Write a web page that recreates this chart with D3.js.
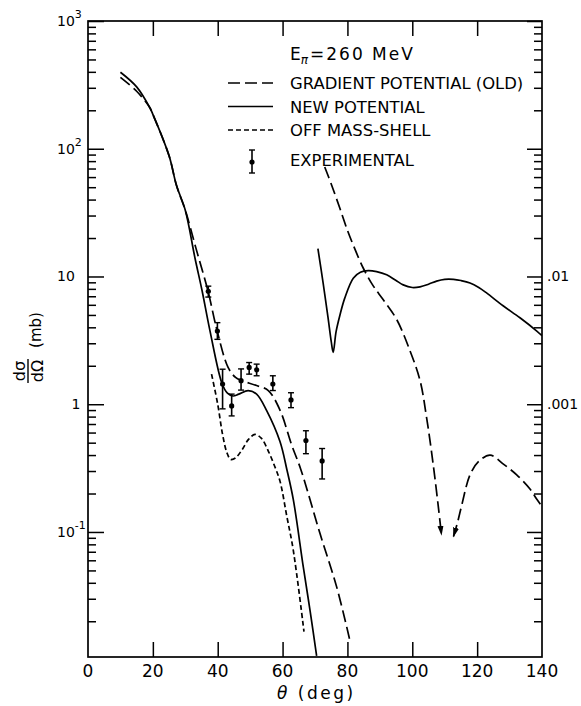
<!DOCTYPE html>
<html>
<head>
<meta charset="utf-8">
<script src="https://cdn.jsdelivr.net/npm/d3@7"></script>
<style>
  body { margin: 0; background: #fff; }
  svg { font-family: "DejaVu Sans", sans-serif; }
</style>
</head>
<body>
<svg id="chart" width="581" height="706"></svg>
<script>
// Values: [theta (deg), dsigma/dOmega (mb)]
const commonStart = [[19, 211], [20, 186], [25, 88], [27.3, 51.5], [30, 33]];

const newPotential = [[10, 397], [15, 305]].concat(commonStart, [
    [33, 13.9], [35.2, 7.7], [37.6, 3.77], [41.3, 1.46], [43, 1.22], [44.7, 1.16],
    [46.5, 1.2], [49.4, 1.28], [52, 1.2], [55.1, 0.89], [59.2, 0.51], [61.3, 0.31],
    [63.3, 0.18], [66.4, 0.053], [68.5, 0.024], [70.5, 0.0107]
]);

const oldPotential = [[10, 362], [15, 282]].concat(commonStart, [
    [33.3, 16.6], [37, 7.7], [39.8, 3.77], [43.2, 1.94], [45.5, 1.62], [47.4, 1.53],
    [52, 1.4], [55.6, 1.28], [59.2, 0.9], [62.8, 0.48], [65.6, 0.31], [71.5, 0.098],
    [76.7, 0.037], [80.8, 0.014]
]);

const offMassShell = [
    [38.1, 1.72], [40, 1.0], [41.5, 0.58], [42.8, 0.42], [44, 0.37], [45.5, 0.38],
    [47.5, 0.44], [49.5, 0.53], [51.5, 0.58], [53.5, 0.54], [55.6, 0.43], [57.5, 0.33],
    [59.2, 0.25], [61.3, 0.133], [63.3, 0.072], [66.6, 0.0166]
];

// experimental: [theta, value, low, high]
const experimental = [
    [37.1, 7.65, 6.9, 8.4], [39.9, 3.74, 3.22, 4.35], [41.5, 1.44, 0.92, 1.88],
    [44.3, 0.97, 0.81, 1.2], [47.2, 1.53, 1.29, 1.89], [49.7, 1.94, 1.72, 2.12],
    [52.0, 1.86, 1.67, 2.06], [57.0, 1.44, 1.28, 1.67], [62.6, 1.08, 0.94, 1.23],
    [67.2, 0.52, 0.41, 0.62], [72.2, 0.36, 0.26, 0.45]
];

// large-angle curves, read against the right-hand axis
const newPotentialRight = [
    [70.9, 0.0165], [72.5, 0.0089], [74, 0.0048], [75, 0.0031], [75.6, 0.00255],
    [76.5, 0.0037], [77.7, 0.005], [79.2, 0.0068], [81.8, 0.0097], [84, 0.0108],
    [86.4, 0.0111], [89, 0.0109], [92.1, 0.0103], [95, 0.0093], [97.2, 0.0086],
    [100, 0.0082], [102.4, 0.0083], [105, 0.0087], [107.5, 0.0092], [110, 0.0095],
    [112.7, 0.0095], [115, 0.0093], [117.8, 0.0089], [120.5, 0.0082], [123, 0.0074],
    [128, 0.0059], [133.2, 0.00475], [138.4, 0.00374], [140, 0.00344]
];

const oldPotentialRightA = [
    [73, 0.072], [75, 0.053], [77.7, 0.034], [80, 0.023], [81.8, 0.0176],
    [84.9, 0.0116], [88, 0.0084], [91, 0.0066], [95.2, 0.0046], [99.3, 0.00262],
    [102.4, 0.00153], [104.4, 0.00079], [106.5, 0.00033], [108, 0.00016], [109, 0.000095]
];

const oldPotentialRightB = [
    [112.7, 0.000092], [114, 0.00012], [115.2, 0.00016], [117.8, 0.00028],
    [120.4, 0.000355], [124, 0.0004], [128.1, 0.00034], [132.2, 0.00028],
    [136.3, 0.000217], [138.4, 0.00018], [139.5, 0.000165]
];

const xTicks = [0, 20, 40, 60, 80, 100, 120, 140];
const leftDecades = [1000, 100, 10, 1, 0.1];
const rightDecades = [1, 0.1, 0.01, 0.001, 0.0001];
const rightLabels = [[0.01, ".01"], [0.001, ".001"]];

const legendItems = [
    { label: "GRADIENT POTENTIAL (OLD)", dash: "12,5" },
    { label: "NEW POTENTIAL", dash: null },
    { label: "OFF MASS-SHELL", dash: "5,3" }
];

// Geometry
const plotLeft = 88, plotRight = 542, plotTop = 21, plotBottom = 657;

const svg = d3.select("#chart");

const x = d3.scaleLinear().domain([0, 140]).range([plotLeft, plotRight]);
const y = d3.scaleLog().domain([0.0105, 1000]).range([plotBottom, plotTop]);
const yR = d3.scaleLog().domain([0.0105e-3, 1]).range([plotBottom, plotTop]);

function minorTicks(scale) {
    const [lo, hi] = scale.domain();
    const out = [];
    for (let e = Math.floor(Math.log10(lo)); e < Math.ceil(Math.log10(hi)); e++) {
        for (let k = 2; k <= 9; k++) {
            const v = k * Math.pow(10, e);
            if (v > lo && v < hi) out.push(v);
        }
    }
    return out;
}

function styleAxis(g) {
    g.select(".domain").remove();
    g.selectAll("line").attr("stroke", "#000").attr("stroke-width", 1.5);
}

// left axis (ticks inward)
svg.append("g").attr("transform", `translate(${plotLeft},0)`)
    .call(d3.axisRight(y).tickValues(leftDecades).tickSize(16).tickFormat(""))
    .call(styleAxis);
svg.append("g").attr("transform", `translate(${plotLeft},0)`)
    .call(d3.axisRight(y).tickValues(minorTicks(y)).tickSize(8).tickFormat(""))
    .call(styleAxis);

// right axis
svg.append("g").attr("transform", `translate(${plotRight},0)`)
    .call(d3.axisLeft(yR).tickValues(rightDecades).tickSize(15).tickFormat(""))
    .call(styleAxis);
svg.append("g").attr("transform", `translate(${plotRight},0)`)
    .call(d3.axisLeft(yR).tickValues(minorTicks(yR)).tickSize(8).tickFormat(""))
    .call(styleAxis);

// bottom and top axes
const innerX = xTicks.slice(1, -1);
svg.append("g").attr("transform", `translate(0,${plotBottom})`)
    .call(d3.axisTop(x).tickValues(innerX).tickSize(15).tickFormat(""))
    .call(styleAxis);
svg.append("g").attr("transform", `translate(0,${plotTop})`)
    .call(d3.axisBottom(x).tickValues(innerX).tickSize(15).tickFormat(""))
    .call(styleAxis);

// frame
svg.append("rect")
    .attr("x", plotLeft).attr("y", plotTop)
    .attr("width", plotRight - plotLeft).attr("height", plotBottom - plotTop)
    .attr("fill", "none").attr("stroke", "#000").attr("stroke-width", 1.7);

// x tick labels
svg.selectAll(".xlab").data(xTicks).enter().append("text")
    .attr("x", d => x(d)).attr("y", 677)
    .attr("text-anchor", "middle").attr("font-size", 17)
    .text(d => d);

// left tick labels
const exps = { 1000: "3", 100: "2", 0.1: "-1" };
leftDecades.forEach(v => {
    const t = svg.append("text").attr("font-size", 14)
        .attr("y", y(v) + 5);
    if (v === 1) {
        t.attr("x", 76).attr("text-anchor", "middle").text("1");
    } else {
        t.attr("x", 57);
        t.append("tspan").text("10");
        if (exps[v]) t.append("tspan").attr("dy", -8).attr("font-size", 11).text(exps[v]);
    }
});

// right tick labels
svg.selectAll(".rlab").data(rightLabels).enter().append("text")
    .attr("x", plotRight + 5).attr("y", d => yR(d[0]) + 5)
    .attr("font-size", 14)
    .text(d => d[1]);

// axis titles
svg.append("text").attr("x", 277).attr("y", 699).attr("font-size", 17)
    .attr("letter-spacing", 2.5)
    .call(t => {
        t.append("tspan").attr("font-style", "italic").text("θ");
        t.append("tspan").text(" (deg)");
    });

const yTitle = svg.append("g");
yTitle.append("text").attr("transform", "translate(25,371) rotate(-90)")
    .attr("text-anchor", "middle").attr("font-size", 16).text("dσ");
yTitle.append("text").attr("transform", "translate(43,371) rotate(-90)")
    .attr("text-anchor", "middle").attr("font-size", 16).text("dΩ");
yTitle.append("line").attr("x1", 28).attr("x2", 28).attr("y1", 359).attr("y2", 383)
    .attr("stroke", "#000").attr("stroke-width", 1.4);
yTitle.append("text").attr("transform", "translate(41,330) rotate(-90)")
    .attr("text-anchor", "middle").attr("font-size", 15).text("(mb)");

// clip to plot area
svg.append("clipPath").attr("id", "plot-clip")
    .append("rect").attr("x", plotLeft).attr("y", plotTop)
    .attr("width", plotRight - plotLeft).attr("height", plotBottom - plotTop);

const defs = svg.append("defs");
defs.append("marker").attr("id", "arrow")
    .attr("viewBox", "0 -4 10 8").attr("refX", 9).attr("refY", 0)
    .attr("markerWidth", 10).attr("markerHeight", 8)
    .attr("markerUnits", "userSpaceOnUse")
    .attr("orient", "auto-start-reverse")
    .append("path").attr("d", "M0,-3L10,0L0,3Z").attr("fill", "#000");

const plot = svg.append("g").attr("clip-path", "url(#plot-clip)");

const smooth = d3.curveCatmullRom.alpha(0.5);
const line = d3.line().x(d => x(d[0])).y(d => y(d[1])).curve(smooth);
const lineR = d3.line().x(d => x(d[0])).y(d => yR(d[1])).curve(smooth);

function drawCurve(gen, data, dash) {
    return plot.append("path").datum(data)
        .attr("d", gen)
        .attr("fill", "none").attr("stroke", "#000").attr("stroke-width", 1.7)
        .attr("stroke-dasharray", dash);
}

drawCurve(line, oldPotential, "12,5");
drawCurve(line, newPotential, null);
drawCurve(line, offMassShell, "5,3");
drawCurve(lineR, newPotentialRight, null);
svg.append("path").datum(oldPotentialRightA).attr("d", lineR)
    .attr("fill", "none").attr("stroke", "#000").attr("stroke-width", 1.7)
    .attr("stroke-dasharray", "12,5").attr("marker-end", "url(#arrow)");
svg.append("path").datum(oldPotentialRightB).attr("d", lineR)
    .attr("fill", "none").attr("stroke", "#000").attr("stroke-width", 1.7)
    .attr("stroke-dasharray", "12,5").attr("marker-start", "url(#arrow)");

// error bars
function errorBar(g, cx, cy, y1, y2) {
    g.append("line").attr("x1", cx).attr("x2", cx).attr("y1", y1).attr("y2", y2)
        .attr("stroke", "#000").attr("stroke-width", 1.6);
    [y1, y2].forEach(yy => g.append("line")
        .attr("x1", cx - 3).attr("x2", cx + 3).attr("y1", yy).attr("y2", yy)
        .attr("stroke", "#000").attr("stroke-width", 1.4));
    g.append("circle").attr("cx", cx).attr("cy", cy).attr("r", 2.6).attr("fill", "#000");
}

const pts = svg.append("g");
experimental.forEach(d => errorBar(pts, x(d[0]), y(d[1]), y(d[3]), y(d[2])));

// legend
const legend = svg.append("g");
const title = legend.append("text").attr("x", 290).attr("y", 60).attr("font-size", 17);
title.append("tspan").text("E");
title.append("tspan").attr("dy", 4).attr("font-size", 12).attr("font-style", "italic").text("π");
legend.append("text").attr("x", 310).attr("y", 60).attr("font-size", 17)
    .attr("letter-spacing", 2)
    .text("=260 MeV");

legendItems.forEach((d, i) => {
    const ly = 83 + i * 23.5;
    legend.append("line").attr("x1", 228).attr("x2", 273).attr("y1", ly).attr("y2", ly)
        .attr("stroke", "#000").attr("stroke-width", 1.7)
        .attr("stroke-dasharray", d.dash);
    legend.append("text").attr("x", 290).attr("y", ly + 6).attr("font-size", 16.4).text(d.label);
});
errorBar(legend, 252, 162, 150, 173);
legend.append("text").attr("x", 290).attr("y", 166).attr("font-size", 16.4).text("EXPERIMENTAL");
</script>
</body>
</html>
